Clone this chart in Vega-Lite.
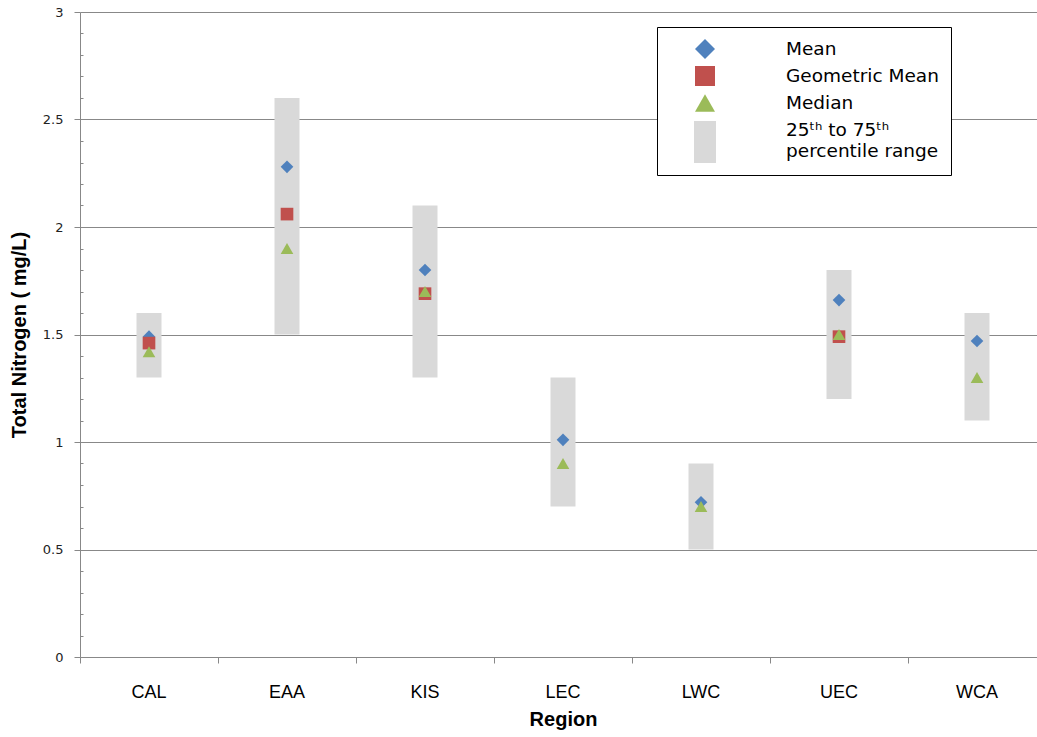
{
  "$schema": "https://vega.github.io/schema/vega-lite/v6.json",
  "width": 957,
  "height": 645,
  "autosize": {"type": "none"},
  "padding": {"left": 80, "top": 12, "right": 0, "bottom": 80},
  "background": "white",
  "config": {"view": {"stroke": null}},
  "data": {
    "values": [
      {"region": "CAL", "p25": 1.3, "p75": 1.6, "Mean": 1.49, "Geometric Mean": 1.46, "Median": 1.42},
      {"region": "EAA", "p25": 1.5, "p75": 2.6, "Mean": 2.28, "Geometric Mean": 2.06, "Median": 1.9},
      {"region": "KIS", "p25": 1.3, "p75": 2.1, "Mean": 1.8, "Geometric Mean": 1.69, "Median": 1.7},
      {"region": "LEC", "p25": 0.7, "p75": 1.3, "Mean": 1.01, "Geometric Mean": null, "Median": 0.9},
      {"region": "LWC", "p25": 0.5, "p75": 0.9, "Mean": 0.72, "Geometric Mean": null, "Median": 0.7},
      {"region": "UEC", "p25": 1.2, "p75": 1.8, "Mean": 1.66, "Geometric Mean": 1.49, "Median": 1.5},
      {"region": "WCA", "p25": 1.1, "p75": 1.6, "Mean": 1.47, "Geometric Mean": null, "Median": 1.3}
    ]
  },
  "encoding": {
    "x": {
      "field": "region",
      "type": "nominal",
      "scale": {"range": [0, 966], "paddingInner": 0, "paddingOuter": 0},
      "axis": {
        "title": "Region",
        "bandPosition": 0,
        "labelAngle": 0,
        "tickSize": 6,
        "tickColor": "#888888",
        "domainColor": "#888888",
        "grid": false,
        "labelFont": "Liberation Sans",
        "labelFontSize": 18,
        "labelColor": "#000000",
        "labelPadding": 20,
        "titleFont": "Liberation Sans",
        "titleFontSize": 20,
        "titleFontWeight": "bold",
        "titleColor": "#000000",
        "titlePadding": 8
      }
    }
  },
  "resolve": {"axis": {"y": "independent"}},
  "layer": [
    {
      "mark": {"type": "bar", "size": 25, "color": "#d9d9d9"},
      "encoding": {
        "y": {
          "field": "p25",
          "type": "quantitative",
          "title": "Total Nitrogen ( mg/L)",
          "scale": {"domain": [0, 3], "nice": false},
          "axis": {
            "orient": "left",
            "values": [0, 0.5, 1, 1.5, 2, 2.5, 3],
            "format": "~g",
            "grid": true,
            "gridColor": "#888888",
            "tickSize": 6,
            "tickColor": "#888888",
            "domainColor": "#888888",
            "labelFont": "DejaVu Sans",
            "labelFontSize": 13,
            "labelColor": "#222222",
            "labelPadding": 11,
            "titleFont": "Liberation Sans",
            "titleFontSize": 20,
            "titleFontWeight": "bold",
            "titleColor": "#000000",
            "titlePadding": 13
          }
        },
        "y2": {"field": "p75"}
      }
    },
    {
      "transform": [{"fold": ["Mean", "Geometric Mean", "Median"], "as": ["stat", "value"]}],
      "mark": {"type": "point", "filled": true, "size": 160, "opacity": 1, "strokeWidth": 0},
      "encoding": {
        "y": {
          "field": "value",
          "type": "quantitative",
          "axis": {
            "orient": "left",
            "offset": -3,
            "title": null,
            "labels": false,
            "domain": false,
            "grid": false,
            "values": [0.1, 0.2, 0.3, 0.4, 0.6, 0.7, 0.8, 0.9, 1.1, 1.2, 1.3, 1.4, 1.6, 1.7, 1.8, 1.9, 2.1, 2.2, 2.3, 2.4, 2.6, 2.7, 2.8, 2.9],
            "tickSize": 3,
            "tickColor": "#888888"
          }
        },
        "color": {
          "field": "stat",
          "type": "nominal",
          "scale": {
            "domain": ["Mean", "Geometric Mean", "Median", "Range"],
            "range": ["#4F81BD", "#C0504D", "#9BBB59", "#D9D9D9"]
          },
          "legend": {
            "title": null,
            "orient": "none",
            "legendX": 577,
            "legendY": 15,
            "direction": "vertical",
            "padding": 12,
            "strokeColor": "#000000",
            "fillColor": "#ffffff",
            "symbolSize": 400,
            "symbolOffset": 26,
            "symbolStrokeWidth": 0,
            "labelOffset": 71,
            "labelFont": "DejaVu Sans",
            "labelFontSize": 18.5,
            "labelColor": "#000000",
            "labelLimit": 300,
            "rowPadding": 7,
            "labelExpr": "datum.label == 'Range' ? ['25ᵗʰ to 75ᵗʰ', 'percentile range'] : datum.label",
            "encode": {
              "symbols": {
                "update": {
                  "fill": {"signal": "datum.value == 'Mean' ? '#4F81BD' : datum.value == 'Geometric Mean' ? '#E46C0A' : datum.value == 'Median' ? '#92D050' : '#D9D9D9'"},
                  "opacity": {"value": 1}
                }
              }
            }
          }
        },
        "shape": {
          "field": "stat",
          "type": "nominal",
          "scale": {
            "domain": ["Mean", "Geometric Mean", "Median", "Range"],
            "range": ["diamond", "square", "triangle-up", "M-1.1,-0.9H1.1V3.3H-1.1Z"]
          }
        }
      }
    }
  ]
}
